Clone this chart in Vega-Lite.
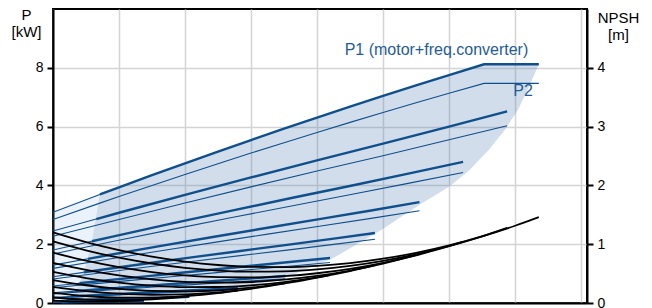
{
"$schema":"https://vega.github.io/schema/vega-lite/v6.json",
"width":534,"height":294,"autosize":"none",
"padding":{"left":53,"top":9,"right":65,"bottom":5},
"background":"white",
"config":{"view":{"stroke":"#000","strokeWidth":2},"font":"Liberation Sans"},
"datasets":{
"light":[{"u":0,"p":3.09,"p0":0},{"u":0.1,"p":3.175,"p0":0.0103},{"u":0.2,"p":3.259,"p0":0.0825},{"u":0.3,"p":3.346,"p0":0.278},{"u":0.4,"p":3.431,"p0":0.66},{"u":0.5,"p":3.515,"p0":1.289},{"u":0.6,"p":3.599,"p0":2.227},{"u":0.71,"p":3.692,"p0":3.692}],
"dark":[{"u":0.1,"p":0.0103,"p0":0},{"u":0.2,"p":0.0825,"p0":0},{"u":0.3,"p":0.278,"p0":0},{"u":0.4,"p":0.66,"p0":0},{"u":0.5,"p":1.289,"p0":0},{"u":0.6,"p":2.227,"p0":0},{"u":0.71,"p":3.692,"p0":0},{"u":1.0,"p":3.934,"p0":0.03},{"u":1.5,"p":4.346,"p0":0.09},{"u":1.92,"p":4.687,"p0":0.15},{"u":2.23,"p":4.936,"p0":0.256},{"u":2.83,"p":5.41,"p0":0.46},{"u":3.0,"p":5.542,"p0":0.56},{"u":3.59,"p":5.996,"p0":0.92},{"u":3.74,"p":6.11,"p0":1.06},{"u":4.24,"p":6.486,"p0":1.52},{"u":4.5,"p":6.678,"p0":1.86},{"u":4.95,"p":7.007,"p0":2.45},{"u":5.56,"p":7.445,"p0":3.35},{"u":6.0,"p":7.754,"p0":3.95},{"u":6.3,"p":7.962,"p0":4.5},{"u":6.53,"p":8.12,"p0":5.04},{"u":6.6,"p":8.12,"p0":5.2},{"u":6.85,"p":8.12,"p0":5.9},{"u":7.05,"p":8.12,"p0":6.6},{"u":7.2,"p":8.12,"p0":7.3},{"u":7.36,"p":8.12,"p0":8.12}],
"pc":[
{"s":"1m","k":"min","u":0,"p":3.09},{"s":"1m","k":"min","u":0.71,"p":3.692},
{"s":"1a","k":"P1","u":0.71,"p":3.692},{"s":"1a","k":"P1","u":1,"p":3.934},{"s":"1a","k":"P1","u":1.5,"p":4.346},{"s":"1a","k":"P1","u":2,"p":4.751},{"s":"1a","k":"P1","u":2.5,"p":5.15},{"s":"1a","k":"P1","u":3,"p":5.542},{"s":"1a","k":"P1","u":3.5,"p":5.928},{"s":"1a","k":"P1","u":4,"p":6.306},{"s":"1a","k":"P1","u":4.5,"p":6.678},{"s":"1a","k":"P1","u":5,"p":7.044},{"s":"1a","k":"P1","u":5.5,"p":7.402},{"s":"1a","k":"P1","u":6,"p":7.754},{"s":"1a","k":"P1","u":6.53,"p":8.12},{"s":"1a","k":"P1","u":7.36,"p":8.12},
{"s":"1b","k":"P2","u":0,"p":2.843},{"s":"1b","k":"P2","u":0.71,"p":3.397},{"s":"1b","k":"P2","u":1,"p":3.619},{"s":"1b","k":"P2","u":1.5,"p":3.998},{"s":"1b","k":"P2","u":2,"p":4.371},{"s":"1b","k":"P2","u":2.5,"p":4.738},{"s":"1b","k":"P2","u":3,"p":5.099},{"s":"1b","k":"P2","u":3.5,"p":5.454},{"s":"1b","k":"P2","u":4,"p":5.802},{"s":"1b","k":"P2","u":4.5,"p":6.144},{"s":"1b","k":"P2","u":5,"p":6.48},{"s":"1b","k":"P2","u":5.5,"p":6.81},{"s":"1b","k":"P2","u":6,"p":7.134},{"s":"1b","k":"P2","u":6.53,"p":7.47},{"s":"1b","k":"P2","u":7.36,"p":7.47},
{"s":"2m","k":"min","u":0,"p":2.45},{"s":"2m","k":"min","u":0.655,"p":2.856},
{"s":"2a","k":"P1","u":0.655,"p":2.856},{"s":"2a","k":"P1","u":1,"p":3.07},{"s":"2a","k":"P1","u":2,"p":3.68},{"s":"2a","k":"P1","u":3,"p":4.27},{"s":"2a","k":"P1","u":4,"p":4.85},{"s":"2a","k":"P1","u":5,"p":5.42},{"s":"2a","k":"P1","u":6,"p":6.0},{"s":"2a","k":"P1","u":6.88,"p":6.52},
{"s":"2b","k":"P2","u":0,"p":2.27},{"s":"2b","k":"P2","u":1,"p":2.84},{"s":"2b","k":"P2","u":2,"p":3.4},{"s":"2b","k":"P2","u":3,"p":3.95},{"s":"2b","k":"P2","u":4,"p":4.49},{"s":"2b","k":"P2","u":5,"p":5.01},{"s":"2b","k":"P2","u":6,"p":5.55},{"s":"2b","k":"P2","u":6.88,"p":6.03},
{"s":"3m","k":"min","u":0,"p":1.803},{"s":"3m","k":"min","u":0.59,"p":2.101},
{"s":"3a","k":"P1","u":0.59,"p":2.101},{"s":"3a","k":"P1","u":0.903,"p":2.26},{"s":"3a","k":"P1","u":1.806,"p":2.708},{"s":"3a","k":"P1","u":2.709,"p":3.143},{"s":"3a","k":"P1","u":3.612,"p":3.57},{"s":"3a","k":"P1","u":4.515,"p":3.989},{"s":"3a","k":"P1","u":5.418,"p":4.416},{"s":"3a","k":"P1","u":6.213,"p":4.799},
{"s":"3b","k":"P2","u":0,"p":1.668},{"s":"3b","k":"P2","u":0.903,"p":2.091},{"s":"3b","k":"P2","u":1.806,"p":2.505},{"s":"3b","k":"P2","u":2.709,"p":2.907},{"s":"3b","k":"P2","u":3.612,"p":3.302},{"s":"3b","k":"P2","u":4.515,"p":3.69},{"s":"3b","k":"P2","u":5.418,"p":4.085},{"s":"3b","k":"P2","u":6.213,"p":4.439},
{"s":"4m","k":"min","u":0,"p":1.289},{"s":"4m","k":"min","u":0.53,"p":1.503},
{"s":"4a","k":"P1","u":0.53,"p":1.503},{"s":"4a","k":"P1","u":0.807,"p":1.615},{"s":"4a","k":"P1","u":1.614,"p":1.936},{"s":"4a","k":"P1","u":2.421,"p":2.246},{"s":"4a","k":"P1","u":3.228,"p":2.551},{"s":"4a","k":"P1","u":4.035,"p":2.851},{"s":"4a","k":"P1","u":4.842,"p":3.156},{"s":"4a","k":"P1","u":5.552,"p":3.43},
{"s":"4b","k":"P2","u":0,"p":1.179},{"s":"4b","k":"P2","u":0.807,"p":1.478},{"s":"4b","k":"P2","u":1.614,"p":1.771},{"s":"4b","k":"P2","u":2.421,"p":2.055},{"s":"4b","k":"P2","u":3.228,"p":2.334},{"s":"4b","k":"P2","u":4.035,"p":2.609},{"s":"4b","k":"P2","u":4.842,"p":2.888},{"s":"4b","k":"P2","u":5.552,"p":3.138},
{"s":"5m","k":"min","u":0,"p":0.894},{"s":"5m","k":"min","u":0.465,"p":1.043},
{"s":"5a","k":"P1","u":0.465,"p":1.043},{"s":"5a","k":"P1","u":0.709,"p":1.121},{"s":"5a","k":"P1","u":1.418,"p":1.343},{"s":"5a","k":"P1","u":2.127,"p":1.559},{"s":"5a","k":"P1","u":2.836,"p":1.77},{"s":"5a","k":"P1","u":3.545,"p":1.978},{"s":"5a","k":"P1","u":4.254,"p":2.19},{"s":"5a","k":"P1","u":4.878,"p":2.38},
{"s":"5b","k":"P2","u":0,"p":0.814},{"s":"5b","k":"P2","u":0.709,"p":1.02},{"s":"5b","k":"P2","u":1.418,"p":1.222},{"s":"5b","k":"P2","u":2.127,"p":1.419},{"s":"5b","k":"P2","u":2.836,"p":1.611},{"s":"5b","k":"P2","u":3.545,"p":1.8},{"s":"5b","k":"P2","u":4.254,"p":1.993},{"s":"5b","k":"P2","u":4.878,"p":2.166},
{"s":"6m","k":"min","u":0,"p":0.576},{"s":"6m","k":"min","u":0.4,"p":0.671},
{"s":"6a","k":"P1","u":0.4,"p":0.671},{"s":"6a","k":"P1","u":0.61,"p":0.721},{"s":"6a","k":"P1","u":1.22,"p":0.865},{"s":"6a","k":"P1","u":1.83,"p":1.003},{"s":"6a","k":"P1","u":2.44,"p":1.14},{"s":"6a","k":"P1","u":3.05,"p":1.274},{"s":"6a","k":"P1","u":3.66,"p":1.41},{"s":"6a","k":"P1","u":4.197,"p":1.532},
{"s":"6b","k":"P2","u":0,"p":0.518},{"s":"6b","k":"P2","u":0.61,"p":0.649},{"s":"6b","k":"P2","u":1.22,"p":0.778},{"s":"6b","k":"P2","u":1.83,"p":0.903},{"s":"6b","k":"P2","u":2.44,"p":1.026},{"s":"6b","k":"P2","u":3.05,"p":1.147},{"s":"6b","k":"P2","u":3.66,"p":1.269},{"s":"6b","k":"P2","u":4.197,"p":1.379},
{"s":"7m","k":"min","u":0,"p":0.345},{"s":"7m","k":"min","u":0.335,"p":0.403},
{"s":"7a","k":"P1","u":0.335,"p":0.403},{"s":"7a","k":"P1","u":0.512,"p":0.433},{"s":"7a","k":"P1","u":1.024,"p":0.519},{"s":"7a","k":"P1","u":1.536,"p":0.602},{"s":"7a","k":"P1","u":2.048,"p":0.684},{"s":"7a","k":"P1","u":2.56,"p":0.764},{"s":"7a","k":"P1","u":3.072,"p":0.846},{"s":"7a","k":"P1","u":3.52,"p":0.919},
{"s":"7b","k":"P2","u":0,"p":0.311},{"s":"7b","k":"P2","u":0.512,"p":0.39},{"s":"7b","k":"P2","u":1.024,"p":0.467},{"s":"7b","k":"P2","u":1.536,"p":0.542},{"s":"7b","k":"P2","u":2.048,"p":0.616},{"s":"7b","k":"P2","u":2.56,"p":0.688},{"s":"7b","k":"P2","u":3.072,"p":0.761},{"s":"7b","k":"P2","u":3.52,"p":0.827},
{"s":"8m","k":"min","u":0,"p":0.191},{"s":"8m","k":"min","u":0.27,"p":0.223},
{"s":"8a","k":"P1","u":0.27,"p":0.223},{"s":"8a","k":"P1","u":0.407,"p":0.239},{"s":"8a","k":"P1","u":0.814,"p":0.287},{"s":"8a","k":"P1","u":1.221,"p":0.333},{"s":"8a","k":"P1","u":1.628,"p":0.378},{"s":"8a","k":"P1","u":2.035,"p":0.423},{"s":"8a","k":"P1","u":2.442,"p":0.468},{"s":"8a","k":"P1","u":2.8,"p":0.509},
{"s":"8b","k":"P2","u":0,"p":0.172},{"s":"8b","k":"P2","u":0.407,"p":0.215},{"s":"8b","k":"P2","u":0.814,"p":0.258},{"s":"8b","k":"P2","u":1.221,"p":0.3},{"s":"8b","k":"P2","u":1.628,"p":0.34},{"s":"8b","k":"P2","u":2.035,"p":0.381},{"s":"8b","k":"P2","u":2.442,"p":0.421},{"s":"8b","k":"P2","u":2.8,"p":0.458},
{"s":"9m","k":"min","u":0,"p":0.078},{"s":"9m","k":"min","u":0.2,"p":0.091},
{"s":"9a","k":"P1","u":0.2,"p":0.091},{"s":"9a","k":"P1","u":0.6,"p":0.118},{"s":"9a","k":"P1","u":1.2,"p":0.155},{"s":"9a","k":"P1","u":1.8,"p":0.192},{"s":"9a","k":"P1","u":2.064,"p":0.209},
{"s":"9b","k":"P2","u":0,"p":0.07},{"s":"9b","k":"P2","u":0.6,"p":0.106},{"s":"9b","k":"P2","u":1.2,"p":0.14},{"s":"9b","k":"P2","u":1.8,"p":0.173},{"s":"9b","k":"P2","u":2.064,"p":0.188},
{"s":"10m","k":"min","u":0,"p":0.0245},{"s":"10m","k":"min","u":0.13,"p":0.028},
{"s":"10a","k":"P1","u":0.13,"p":0.028},{"s":"10a","k":"P1","u":0.8,"p":0.0485},{"s":"10a","k":"P1","u":1.376,"p":0.0652},
{"s":"10b","k":"P2","u":0,"p":0.0225},{"s":"10b","k":"P2","u":0.8,"p":0.0446},{"s":"10b","k":"P2","u":1.376,"p":0.06}
],
"npsh":[
{"s":"1","u":0,"n":1.2},{"s":"1","u":0.5,"n":1.036},{"s":"1","u":1,"n":0.899},{"s":"1","u":1.5,"n":0.788},{"s":"1","u":2,"n":0.704},{"s":"1","u":2.5,"n":0.646},{"s":"1","u":3,"n":0.614},{"s":"1","u":3.5,"n":0.609},{"s":"1","u":4,"n":0.63},{"s":"1","u":4.5,"n":0.678},{"s":"1","u":5,"n":0.753},{"s":"1","u":5.5,"n":0.853},{"s":"1","u":6,"n":0.98},{"s":"1","u":6.5,"n":1.134},{"s":"1","u":7,"n":1.314},{"s":"1","u":7.36,"n":1.461},
{"s":"2","u":0,"n":1.049},{"s":"2","u":0.5,"n":0.897},{"s":"2","u":1,"n":0.771},{"s":"2","u":1.5,"n":0.672},{"s":"2","u":2,"n":0.599},{"s":"2","u":2.5,"n":0.552},{"s":"2","u":3,"n":0.532},{"s":"2","u":3.5,"n":0.539},{"s":"2","u":4,"n":0.571},{"s":"2","u":4.5,"n":0.631},{"s":"2","u":5,"n":0.717},{"s":"2","u":5.5,"n":0.829},{"s":"2","u":6,"n":0.967},{"s":"2","u":6.5,"n":1.133},{"s":"2","u":6.88,"n":1.276},
{"s":"3","u":0,"n":0.855},{"s":"3","u":0.5,"n":0.719},{"s":"3","u":1,"n":0.609},{"s":"3","u":1.5,"n":0.526},{"s":"3","u":2,"n":0.469},{"s":"3","u":2.5,"n":0.439},{"s":"3","u":3,"n":0.435},{"s":"3","u":3.5,"n":0.457},{"s":"3","u":4,"n":0.506},{"s":"3","u":4.5,"n":0.581},{"s":"3","u":5,"n":0.684},{"s":"3","u":5.5,"n":0.812},{"s":"3","u":6.21,"n":1.04},
{"s":"4","u":0,"n":0.682},{"s":"4","u":0.5,"n":0.562},{"s":"4","u":1,"n":0.468},{"s":"4","u":1.5,"n":0.401},{"s":"4","u":2,"n":0.36},{"s":"4","u":2.5,"n":0.345},{"s":"4","u":3,"n":0.357},{"s":"4","u":3.5,"n":0.396},{"s":"4","u":4,"n":0.46},{"s":"4","u":4.5,"n":0.552},{"s":"4","u":5,"n":0.67},{"s":"4","u":5.55,"n":0.83},
{"s":"5","u":0,"n":0.528},{"s":"5","u":0.5,"n":0.424},{"s":"5","u":1,"n":0.346},{"s":"5","u":1.5,"n":0.295},{"s":"5","u":2,"n":0.27},{"s":"5","u":2.5,"n":0.272},{"s":"5","u":3,"n":0.3},{"s":"5","u":3.5,"n":0.355},{"s":"5","u":4,"n":0.435},{"s":"5","u":4.5,"n":0.543},{"s":"5","u":4.88,"n":0.643},
{"s":"6","u":0,"n":0.39},{"s":"6","u":0.5,"n":0.302},{"s":"6","u":1,"n":0.241},{"s":"6","u":1.5,"n":0.206},{"s":"6","u":2,"n":0.198},{"s":"6","u":2.5,"n":0.216},{"s":"6","u":3,"n":0.261},{"s":"6","u":3.5,"n":0.332},{"s":"6","u":4.2,"n":0.476},
{"s":"7","u":0,"n":0.274},{"s":"7","u":0.5,"n":0.203},{"s":"7","u":1,"n":0.158},{"s":"7","u":1.5,"n":0.139},{"s":"7","u":2,"n":0.147},{"s":"7","u":2.5,"n":0.182},{"s":"7","u":3,"n":0.242},{"s":"7","u":3.52,"n":0.334},
{"s":"8","u":0,"n":0.173},{"s":"8","u":0.5,"n":0.119},{"s":"8","u":1,"n":0.091},{"s":"8","u":1.5,"n":0.09},{"s":"8","u":2,"n":0.116},{"s":"8","u":2.5,"n":0.167},{"s":"8","u":2.8,"n":0.211},
{"s":"9","u":0,"n":0.094},{"s":"9","u":0.5,"n":0.058},{"s":"9","u":1,"n":0.048},{"s":"9","u":1.5,"n":0.064},{"s":"9","u":2.064,"n":0.115},
{"s":"10","u":0,"n":0.042},{"s":"10","u":0.5,"n":0.022},{"s":"10","u":1,"n":0.029},{"s":"10","u":1.376,"n":0.051}
]
},
"encoding":{"x":{"field":"u","type":"quantitative","scale":{"domain":[0,8.09],"nice":false,"zero":false},
 "axis":{"orient":"bottom","values":[0,1,2,3,4,5,6,7,8],"labels":false,"ticks":false,"title":null,"grid":true,"gridColor":"#d4d4d4","gridWidth":1.5,"domainColor":"#000","domainWidth":2}}},
"layer":[
 {"encoding":{"y":{"field":"p","type":"quantitative","scale":{"domain":[0,10],"nice":false,"zero":true},
  "axis":{"orient":"left","values":[0,2,4,6,8],"grid":true,"gridColor":"#d4d4d4","gridWidth":1.5,"domainColor":"#000","domainWidth":2,"tickColor":"#000","tickWidth":2,"tickSize":6,"labelFontSize":14,"labelColor":"#000","labelPadding":4,"labelFont":"Liberation Sans",
   "title":["P","[kW]"],"titleAngle":0,"titleAlign":"center","titleBaseline":"alphabetic","titleX":-27,"titleY":10,"titleFontSize":15,"titleFontWeight":"normal","titleLineHeight":17,"titleColor":"#000","titleFont":"Liberation Sans"}}},
  "layer":[
   {"data":{"name":"light"},"mark":{"type":"area","color":"#78b4eb","fillOpacity":0.155},"encoding":{"y2":{"field":"p0"}}},
   {"data":{"name":"dark"},"mark":{"type":"area","color":"#4a7aab","fillOpacity":0.254},"encoding":{"y2":{"field":"p0"}}},
   {"data":{"name":"pc"},"transform":[{"filter":"datum.k != 'P1'"}],"mark":{"type":"line","color":"#0f4f8c","strokeWidth":1.1},"encoding":{"detail":{"field":"s"}}},
   {"data":{"name":"pc"},"transform":[{"filter":"datum.k == 'P1'"}],"mark":{"type":"line","color":"#0f4f8c","strokeWidth":2.4},"encoding":{"detail":{"field":"s"}}},
   {"data":{"values":[{"u":7.2,"p":8.42,"t":"P1 (motor+freq.converter)"},{"u":7.27,"p":7.03,"t":"P2"}]},"mark":{"type":"text","align":"right","baseline":"alphabetic","fontSize":16,"color":"#1f5c99","font":"Liberation Sans"},"encoding":{"text":{"field":"t"}}}
  ]},
 {"data":{"name":"npsh"},"mark":{"type":"line","color":"#000","strokeWidth":1.8,"interpolate":"monotone"},
  "encoding":{"y":{"field":"n","type":"quantitative","scale":{"domain":[0,5],"nice":false},
   "axis":{"orient":"right","values":[0,1,2,3,4],"grid":false,"domainColor":"#000","domainWidth":2,"tickColor":"#000","tickWidth":2,"tickSize":6,"labelFontSize":14,"labelColor":"#000","labelPadding":4,"labelFont":"Liberation Sans",
    "title":["NPSH","[m]"],"titleAngle":0,"titleAlign":"center","titleBaseline":"alphabetic","titleX":31,"titleY":13,"titleFontSize":15,"titleFontWeight":"normal","titleLineHeight":17,"titleColor":"#000","titleFont":"Liberation Sans"}},
   "detail":{"field":"s"}}}
],
"resolve":{"scale":{"y":"independent"}}
}
